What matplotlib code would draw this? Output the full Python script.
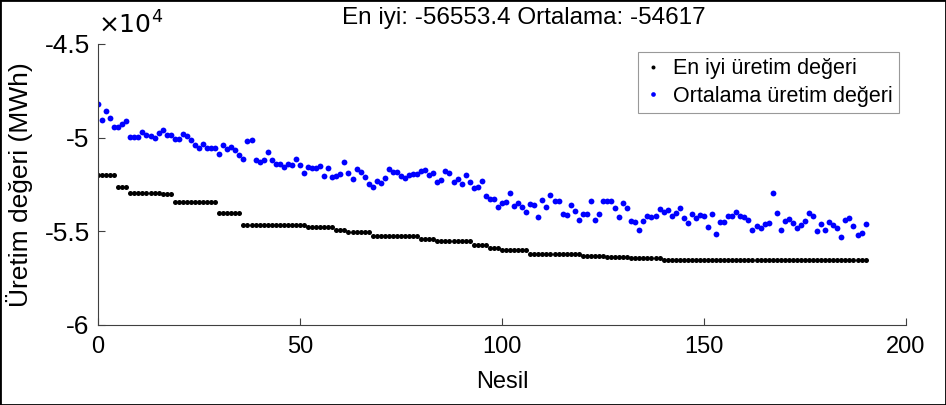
import matplotlib
matplotlib.use("Agg")
import matplotlib.pyplot as plt
import numpy as np
from matplotlib.patches import Rectangle

plt.rcParams['font.family'] = ['Liberation Sans', 'DejaVu Sans']

# generations
nesil = list(range(0, 191))

# best value per generation, read as flat steps (level, number of generations)
best_levels = [-51970, -52650, -52940, -53020, -53450, -54040, -54646, -54787, -54930,
               -55050, -55270, -55385, -55518, -55730, -55890, -56000, -56230, -56320,
               -56390, -56440, -56553.4]
best_counts = [5, 3, 8, 3, 11, 6, 16, 7, 3, 6, 12, 4, 9, 4, 3, 7, 13, 6, 6, 8, 51]

# population average per generation
ortalama = [
    -48203, -49058, -48560, -48933, -49450, -49430, -49250, -49130, -49950, -49950,
    -49950, -49680, -49840, -49910, -50020, -49750, -49610, -49840, -49840, -50090,
    -50090, -49800, -49930, -50125, -50390, -50570, -50355, -50535, -50535, -50535,
    -50870, -50390, -50610, -50515, -50660, -50910, -51120, -50180, -50145, -51210,
    -51315, -51210, -50750, -51175, -51425, -51425, -51570, -51425, -51480, -51160,
    -51480, -51905, -51570, -51605, -51605, -51530, -52065, -51640, -52120, -52050,
    -51960, -51280, -51890, -52220, -51650, -51815, -52080, -52460, -52620, -52330,
    -52420, -52135, -51675, -51850, -51830, -52050, -52170, -51995, -51940, -51960,
    -51760, -51705, -52010, -51890, -52385, -52260, -51780, -51905, -52385, -52190,
    -52460, -51975, -52350, -52670, -52635, -52330, -53130, -53275, -53255, -53700,
    -53500, -53435, -52970, -53650, -53470, -53720, -53990, -53525, -53610, -54235,
    -53310, -53720, -53080, -53400, -53400, -54060, -54130, -53610, -53935, -54400,
    -54075, -54095, -53400, -54415, -54095, -53400, -53365, -53365, -53730, -54235,
    -53505, -53755, -54435, -54505, -54915, -54435, -54165, -54255, -54165, -53830,
    -53950, -53850, -54165, -54025, -53775, -54290, -54575, -54060, -54310, -54110,
    -54165, -54755, -54090, -55160, -54505, -54505, -54185, -54200, -53950, -54185,
    -54225, -54400, -54930, -54715, -54840, -54625, -54540, -52970, -54005, -54930,
    -54435, -54325, -54540, -54840, -54645, -54450, -54040, -54185, -54985, -54625,
    -54930, -54505, -54645, -54805, -55320, -54415, -54270, -54715, -55215, -55075,
    -54617,
]

y_ticks = [-6, -5.5, -5, -4.5]
y_tick_labels = ["-6", "-5.5", "-5", "-4.5"]
x_ticks = [0, 50, 100, 150, 200]

en_iyi = np.repeat(best_levels, best_counts)

fig = plt.figure(figsize=(9.46, 4.05), dpi=100)
ax = fig.add_axes([98 / 946, 80 / 405, 808 / 946, 281 / 405])

ax.plot(nesil, en_iyi / 1e4, linestyle='none', marker='o', markersize=3.6,
        markeredgewidth=0, color='black', label="En iyi üretim değeri")
ax.plot(nesil, np.array(ortalama) / 1e4, linestyle='none', marker='o', markersize=4.2,
        markeredgewidth=0, color='#0000ff', label="Ortalama üretim değeri")

ax.set_xlim(0, 200)
ax.set_ylim(-6, -4.5)
ax.set_xticks(x_ticks)
ax.set_yticks(y_ticks)
ax.set_yticklabels(y_tick_labels)
ax.tick_params(direction='in', length=5, width=0.8, color='#404040')
ax.tick_params(axis='x', labelsize=17, pad=8)
ax.tick_params(axis='y', labelsize=19, pad=6)
for side in ['top', 'right']:
    ax.spines[side].set_visible(False)
for side in ['left', 'bottom']:
    ax.spines[side].set_color('#404040')
    ax.spines[side].set_linewidth(0.8)

ax.set_xlabel("Nesil", fontsize=17, labelpad=9)
ax.set_ylabel("Üretim değeri (MWh)", fontsize=19, labelpad=8)
ax.text(0.0, 1.02, r"$\times10^{4}$", transform=ax.transAxes, fontsize=18,
        ha='left', va='bottom')

fig.text(524 / 946, 1 - 18 / 405,
         "En iyi: %.1f Ortalama: %.0f" % (en_iyi[-1], ortalama[-1]),
         fontsize=17.5, ha='center', va='center')

leg = ax.legend(loc='upper right', bbox_to_anchor=(0.991, 0.972), borderaxespad=0,
                fontsize=15.5, frameon=True, fancybox=False, markerscale=0.8,
                handlelength=0.8, handletextpad=0.5, borderpad=0.3, labelspacing=0.3)
leg.get_frame().set_edgecolor('#808080')
leg.get_frame().set_linewidth(0.8)

fig.patches.append(Rectangle((0, 0), 1, 1, transform=fig.transFigure, fill=False,
                             edgecolor='black', linewidth=2))

fig.savefig("out.png", dpi=100)
